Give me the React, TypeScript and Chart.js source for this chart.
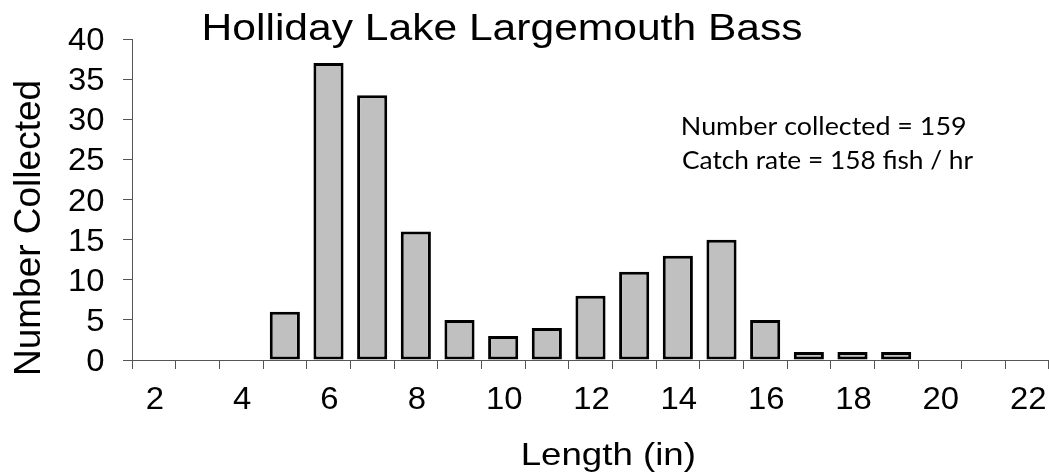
import React, { useEffect, useRef } from "react";
import { Chart, registerables } from "chart.js";

Chart.register(...registerables);

// ---- data ----
const categories = ["2", "3", "4", "5", "6", "7", "8", "9", "10", "11", "12", "13", "14", "15", "16", "17", "18", "19", "20", "21", "22"];
const counts = [0, 0, 0, 6, 37, 33, 16, 5, 3, 4, 8, 11, 13, 15, 5, 1, 1, 1, 0, 0, 0];
const xTickLabels = ["2", "4", "6", "8", "10", "12", "14", "16", "18", "20", "22"];
const yMin = 0;
const yMax = 40;
const yStep = 5;
const titleText = "Holliday Lake Largemouth Bass";
const yTitleText = "Number Collected";
const xTitleText = "Length (in)";
const noteLines = ["Number collected = 159", "Catch rate = 158 fish / hr"];

const SANS = '"Liberation Sans", Arial, sans-serif';
const NOTE_FONT = 'Lato, "Open Sans", sans-serif';
const AXIS_COLOR = "#555555";
const TICK_SX = 1.06;
const TICK_FONT_PX = 31;

const textPlugin = {
  id: "customTexts",
  afterDraw(chart: any) {
    const ctx: CanvasRenderingContext2D = chart.ctx;
    const xs = chart.scales.x;
    const ys = chart.scales.y;
    ctx.save();
    ctx.fillStyle = "#000000";

    const fitText = (t: string, left: number, right: number, base: number, font: string) => {
      ctx.font = font;
      ctx.textAlign = "left";
      ctx.textBaseline = "alphabetic";
      const m = ctx.measureText(t);
      const ink = m.actualBoundingBoxLeft + m.actualBoundingBoxRight;
      const sx = (right - left) / ink;
      ctx.save();
      ctx.translate(left, base);
      ctx.scale(sx, 1);
      ctx.fillText(t, m.actualBoundingBoxLeft, 0);
      ctx.restore();
    };

    // title
    fitText(titleText, 205, 802, 39.5, `37px ${SANS}`);
    // x axis title
    fitText(xTitleText, 523, 694, 464.5, `32px ${SANS}`);
    // notes
    fitText(noteLines[0], 683, 965, 135, `25px ${NOTE_FONT}`);
    fitText(noteLines[1], 683, 973, 169, `25px ${NOTE_FONT}`);

    // y axis title (rotated)
    ctx.save();
    ctx.font = `37px ${SANS}`;
    ctx.textAlign = "center";
    ctx.textBaseline = "alphabetic";
    ctx.translate(40, 228);
    ctx.rotate(-Math.PI / 2);
    ctx.fillText(yTitleText, 0, 0);
    ctx.restore();

    // y tick labels
    ctx.font = `${TICK_FONT_PX}px ${SANS}`;
    ctx.textBaseline = "alphabetic";
    ctx.textAlign = "right";
    const half = (TICK_FONT_PX * 0.716) / 2;
    ys.ticks.forEach((tk: any) => {
      const y = ys.getPixelForValue(tk.value);
      ctx.save();
      ctx.translate(104.5, y + half);
      ctx.scale(TICK_SX, 1);
      ctx.fillText(String(tk.value), 0, 0);
      ctx.restore();
    });

    // x tick labels
    ctx.textAlign = "center";
    categories.forEach((c, i) => {
      if (!xTickLabels.includes(c)) return;
      const x = xs.getPixelForTick(i);
      ctx.save();
      ctx.translate(x + 1, 409);
      ctx.scale(TICK_SX, 1);
      ctx.fillText(c, 0, 0);
      ctx.restore();
    });

    ctx.restore();
  },
};

export default function App() {
  const canvasRef = useRef<HTMLCanvasElement | null>(null);

  useEffect(() => {
    if (!canvasRef.current) return;
    const chart = new Chart(canvasRef.current, {
      type: "bar",
      data: {
        labels: categories,
        datasets: [
          {
            data: counts,
            backgroundColor: "#C0C0C0",
            borderColor: "#000000",
            borderWidth: 3,
            borderSkipped: false,
            barPercentage: 0.69,
            categoryPercentage: 1.0,
          },
        ],
      },
      options: {
        animation: false,
        responsive: true,
        maintainAspectRatio: false,
        layout: { padding: { top: 39, left: 0, right: 0, bottom: 0 } },
        plugins: {
          legend: { display: false },
          tooltip: { enabled: false },
          title: { display: false },
        },
        scales: {
          x: {
            type: "category",
            offset: true,
            grid: {
              display: true,
              offset: true,
              drawOnChartArea: false,
              drawTicks: true,
              tickLength: 9,
              color: AXIS_COLOR,
              lineWidth: 1,
            },
            border: { display: true, color: AXIS_COLOR, width: 1 },
            ticks: { display: false, autoSkip: false },
            afterFit: (scale: any) => {
              scale.height = 116;
            },
          },
          y: {
            min: yMin,
            max: yMax,
            ticks: { display: false, stepSize: yStep },
            grid: {
              display: true,
              drawOnChartArea: false,
              drawTicks: true,
              tickLength: 9,
              color: AXIS_COLOR,
              lineWidth: 1,
            },
            border: { display: true, color: AXIS_COLOR, width: 1 },
            afterFit: (scale: any) => {
              scale.width = 132;
            },
          },
        },
      },
      plugins: [textPlugin],
    });
    return () => chart.destroy();
  }, []);

  return (
    <div style={{ position: "absolute", left: 0, top: 0, width: 1049, height: 476, background: "#ffffff" }}>
      <canvas ref={canvasRef} />
    </div>
  );
}
